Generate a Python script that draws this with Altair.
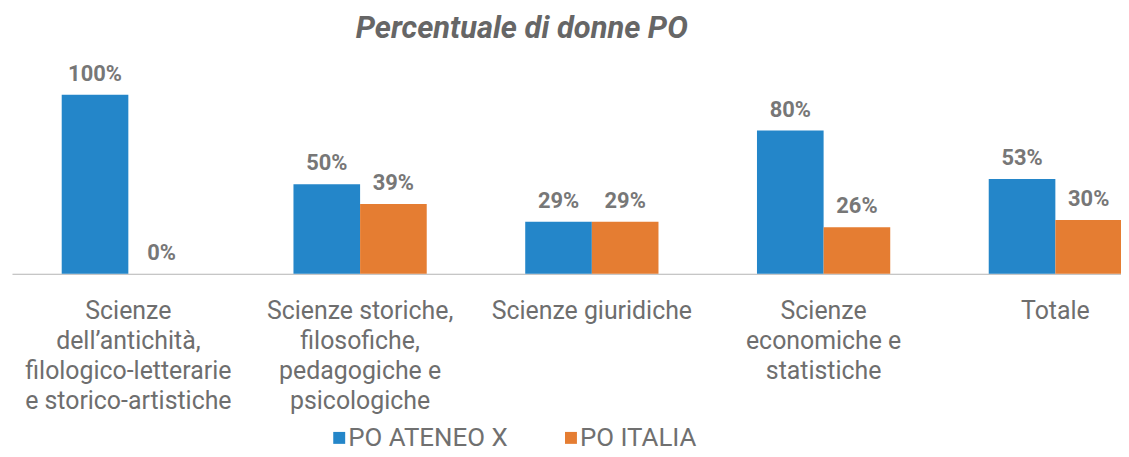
import altair as alt
import pandas as pd

categories = [
    "Scienze|dell’antichità,|filologico-letterarie|e storico-artistiche",
    "Scienze storiche,|filosofiche,|pedagogiche e|psicologiche",
    "Scienze giuridiche",
    "Scienze|economiche e|statistiche",
    "Totale",
]
series = ["PO ATENEO X", "PO ITALIA"]
ateneo = [100, 50, 29, 80, 53]
italia = [0, 39, 29, 26, 30]
colors = ["#2486C9", "#E57D32"]

rows = []
for c, a, i in zip(categories, ateneo, italia):
    rows.append({"cat": c, "series": series[0], "value": a, "label": f"{a}%"})
    rows.append({"cat": c, "series": series[1], "value": i, "label": f"{i}%"})
df = pd.DataFrame(rows)

x = alt.X(
    "cat:N",
    sort=categories,
    scale=alt.Scale(range=[0, 1166], paddingInner=0.425, paddingOuter=0.2146),
    axis=alt.Axis(
        title=None,
        labelExpr="split(datum.label, '|')",
        labelAngle=0,
        ticks=False,
        labelPadding=25,
        labelFontSize=25,
        labelLineHeight=30,
        labelColor="#6e6e6e",
        labelFont="Roboto",
        labelLimit=0,
        domainColor="#b4b4b4",
        domainWidth=1,
        grid=False,
    ),
)
xo = alt.XOffset("series:N", sort=series, scale=alt.Scale(paddingInner=0, paddingOuter=0))
y = alt.Y("value:Q", scale=alt.Scale(domain=[0, 118.89]), axis=None)

bars = alt.Chart(df).mark_bar().encode(
    x=x,
    xOffset=xo,
    y=y,
    color=alt.Color(
        "series:N",
        sort=series,
        scale=alt.Scale(domain=series, range=colors),
        legend=alt.Legend(
            title=None,
            orient="none",
            legendX=316,
            legendY=366,
            direction="horizontal",
            symbolType="square",
            symbolSize=144,
            symbolStrokeWidth=0,
            labelFontSize=26,
            labelColor="#707070",
            labelFont="Roboto",
            labelLimit=0,
            columnPadding=50,
            labelOffset=alt.ExprRef("-4"),
        ),
    ),
)

texts = alt.Chart(df).mark_text(
    dy=-14, baseline="alphabetic", fontSize=22, fontWeight="bold", font="Roboto", color="#777777"
).encode(x=x, xOffset=xo, y=y, text="label:N")

chart = (
    alt.layer(bars, texts)
    .properties(
        width=1115,
        height=214,
        autosize=alt.AutoSizeParams(type="none"),
        padding={"left": 4, "top": 52, "right": 0, "bottom": 183},
        title=alt.TitleParams(
            "Percentuale di donne PO",
            fontSize=31,
            font="Roboto",
            fontStyle="italic",
            fontWeight="bold",
            color="#666666",
            offset=16,
            dx=-45,
        ),
    )
    .configure_view(stroke=None)
)

chart.save("out.html", embed_options={"renderer": "svg", "actions": False})
